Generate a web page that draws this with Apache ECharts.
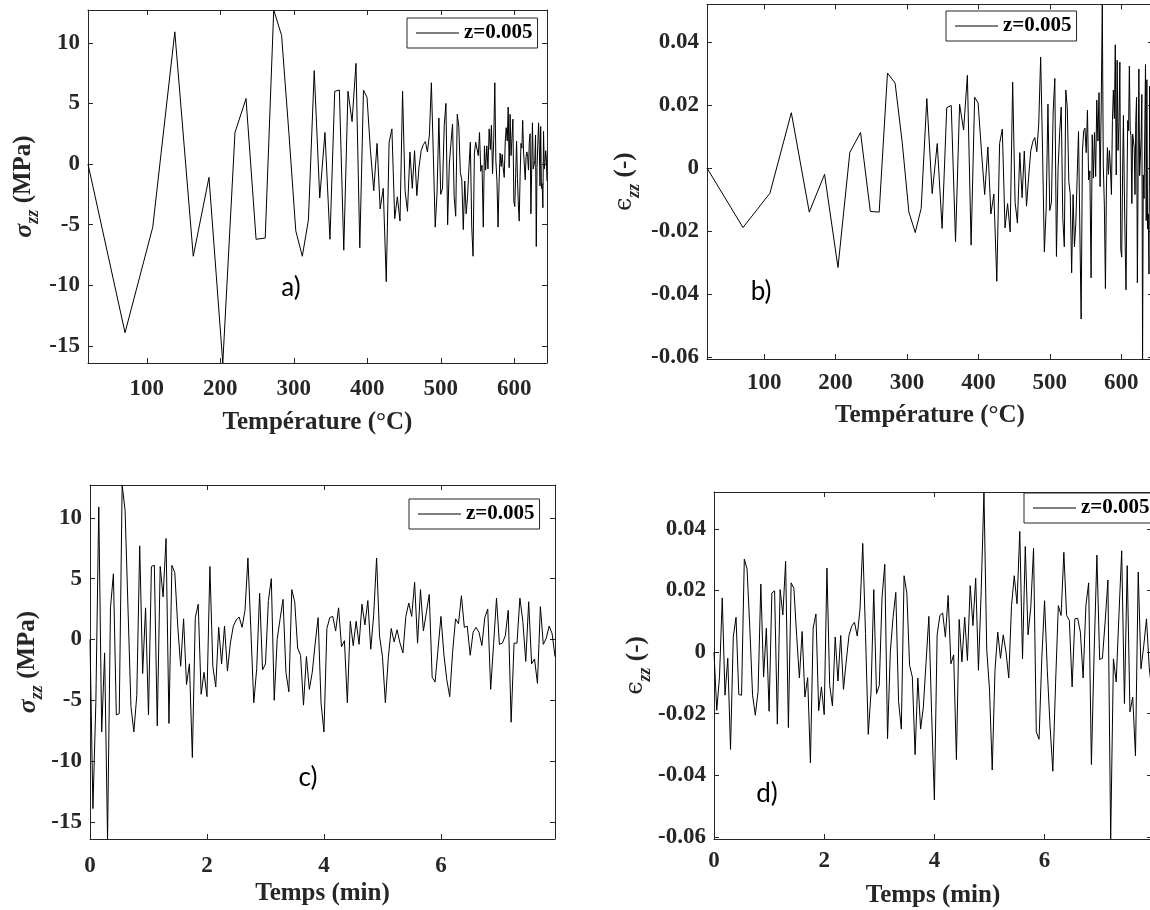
<!DOCTYPE html>
<html>
<head>
<meta charset="utf-8">
<script src="https://cdn.jsdelivr.net/npm/echarts@6/dist/echarts.min.js"></script>
<style>
  html, body { margin: 0; padding: 0; background: #fff; }
  #chart { width: 1150px; height: 910px; }
</style>
</head>
<body>
<div id="chart"></div>
<script>
// ---------------- DATA ----------------
const TIME_MIN = [
  0,0.05,0.1,0.15,0.2,0.25,0.3,0.35,0.4,0.45,
  0.5,0.55,0.6,0.65,0.7,0.75,0.8,0.85,0.9,0.95,
  1,1.05,1.1,1.15,1.2,1.25,1.3,1.35,1.4,1.45,
  1.5,1.55,1.6,1.65,1.7,1.75,1.8,1.85,1.9,1.95,
  2,2.05,2.1,2.15,2.2,2.25,2.3,2.35,2.4,2.45,
  2.5,2.55,2.6,2.65,2.7,2.75,2.8,2.85,2.9,2.95,
  3,3.05,3.1,3.15,3.2,3.25,3.3,3.35,3.4,3.45,
  3.5,3.55,3.6,3.65,3.7,3.75,3.8,3.85,3.9,3.95,
  4,4.05,4.1,4.15,4.2,4.25,4.3,4.35,4.4,4.45,
  4.5,4.55,4.6,4.65,4.7,4.75,4.8,4.85,4.9,4.95,
  5,5.05,5.1,5.15,5.2,5.25,5.3,5.35,5.4,5.45,
  5.5,5.55,5.6,5.65,5.7,5.75,5.8,5.85,5.9,5.95,
  6,6.05,6.1,6.15,6.2,6.25,6.3,6.35,6.4,6.45,
  6.5,6.55,6.6,6.65,6.7,6.75,6.8,6.85,6.9,6.95,
  7,7.05,7.1,7.15,7.2,7.25,7.3,7.35,7.4,7.45,
  7.5,7.55,7.6,7.65,7.7,7.75,7.8,7.85,7.9,7.95
];

const TEMP_C = [
  20.0,70.4,108.1,138.1,163.2,184.6,203.4,220.0,235.0,248.7,
  261.1,272.7,283.4,293.4,302.7,311.6,319.9,327.8,335.3,342.4,
  349.2,355.7,362.0,368.0,373.7,379.3,384.6,389.8,394.8,399.6,
  404.3,408.8,413.3,417.5,421.7,425.8,429.7,433.5,437.3,440.9,
  444.5,448.0,451.4,454.7,458.0,461.2,464.3,467.4,470.3,473.3,
  476.2,479.0,481.8,484.5,487.2,489.8,492.4,494.9,497.4,499.9,
  502.3,504.7,507.0,509.3,511.6,513.8,516.0,518.2,520.3,522.4,
  524.5,526.6,528.6,530.6,532.6,534.5,536.4,538.3,540.2,542.1,
  543.9,545.7,547.5,549.2,551.0,552.7,554.4,556.1,557.8,559.4,
  561.0,562.6,564.2,565.8,567.4,568.9,570.4,572.0,573.5,574.9,
  576.4,577.9,579.3,580.7,582.1,583.5,584.9,586.3,587.7,589.0,
  590.4,591.7,593.0,594.3,595.6,596.9,598.1,599.4,600.7,601.9,
  603.1,604.3,605.5,606.7,607.9,609.1,610.3,611.4,612.6,613.7,
  614.9,616.0,617.1,618.2,619.3,620.4,621.5,622.6,623.7,624.7,
  625.8,626.8,627.9,628.9,629.9,630.9,632.0,633.0,634.0,635.0,
  635.9,636.9,637.9,638.9,639.8,640.8,641.7,642.7,643.6,644.5
];

const STRESS_MPA = [
  0,-13.9,-5.2,10.9,-7.6,-1.1,-16.4,2.6,5.4,-6.2,
  -6.1,12.7,10.6,2.5,-5.5,-7.6,-4.6,7.7,-2.8,2.6,
  -6.2,6.0,6.1,-7.1,6.0,3.5,8.3,-6.9,6.1,5.5,
  1.1,-2.2,1.7,-3.7,-2.0,-9.7,1.8,2.9,-4.5,-2.7,
  -4.7,6.0,-2.2,-3.9,1.0,-2.0,1.1,-2.6,-0.3,1.1,
  1.6,1.85,1.0,2.4,6.7,0.8,-5.2,-2.4,3.8,-2.5,
  -2.0,3.2,5.0,-5.0,0.0,1.7,3.3,-2.7,-4.3,4.1,
  3.1,-0.7,-1.3,-5.4,-1.4,-4.1,-2.7,-0.3,1.8,-5.2,
  -7.6,0.9,1.8,1.9,0.7,2.6,-0.6,-0.1,-5.2,1.5,
  -0.5,1.5,-0.4,2.9,1.2,3.2,-0.8,2.0,6.7,0.3,
  -1.4,-5.2,-1.5,0.9,-0.2,0.8,-0.3,-1.1,1.9,3.0,
  1.9,4.7,-0.3,4.1,0.7,2.2,3.7,-3.1,-3.5,-0.8,
  1.9,-1.2,-3.3,-4.7,-1.0,1.7,1.3,3.6,1.0,1.1,
  -1.3,0.6,1.0,0.6,-0.5,1.8,2.5,-4.1,-0.4,3.4,
  -0.4,-0.3,0.3,2.4,-6.8,-0.3,-0.3,3.4,1.5,-1.8,
  3.1,-2.0,-1.6,-3.6,2.7,-0.4,0.1,1.1,0.5,-1.4
];

const STRAIN = [
  0,-0.0189,-0.008,0.0176,-0.014,-0.002,-0.0316,0.005,0.0113,-0.0138,
  -0.014,0.0302,0.027,0.008,-0.014,-0.0205,-0.0128,0.0221,-0.0081,0.0078,
  -0.0192,0.0192,0.0199,-0.0234,0.0203,0.0121,0.0295,-0.0245,0.0225,0.0207,
  0.0054,-0.0084,0.0067,-0.0146,-0.0083,-0.036,0.0078,0.0124,-0.019,-0.0113,
  -0.0203,0.0273,-0.0108,-0.0175,0.0049,-0.0094,0.0054,-0.0121,-0.003,0.0054,
  0.0084,0.0097,0.0052,0.014,0.0353,0.006,-0.0267,-0.013,0.0203,-0.0135,
  -0.0108,0.0178,0.0285,-0.0281,0.0,0.0113,0.0194,-0.016,-0.025,0.0248,
  0.0192,-0.0043,-0.0081,-0.0333,-0.0084,-0.025,-0.0178,-0.003,0.0116,-0.02,
  -0.048,0.0056,0.0119,0.0127,0.0049,0.0184,-0.0038,-0.0009,-0.0349,0.0106,
  -0.0032,0.0113,-0.0027,0.0216,0.0086,0.024,-0.0059,0.02,0.052,0.001,
  -0.012,-0.0383,-0.006,0.0065,-0.002,0.0056,0.0,-0.0084,0.0151,0.0248,
  0.0157,0.0392,-0.0022,0.0343,0.0056,0.0146,0.0337,-0.0259,-0.0283,-0.002,
  0.0167,-0.006,-0.024,-0.0387,-0.01,0.0151,0.0119,0.0324,0.0119,0.0103,
  -0.0113,0.0108,0.011,0.0065,-0.0084,0.0151,0.0225,-0.0365,0.0,0.0315,
  -0.0024,-0.002,0.01,0.0234,-0.0607,-0.0022,-0.0097,0.012,0.0329,-0.0167,
  0.0281,-0.0194,-0.0146,-0.0337,0.026,-0.0054,0.002,0.0108,-0.005,-0.0135
];

const X_TICKS_TEMP = [100, 200, 300, 400, 500, 600];
const X_TICKS_TIME = [0, 2, 4, 6];
const Y_TICKS_STRESS = [-15, -10, -5, 0, 5, 10];
const Y_TICKS_STRAIN = [-0.06, -0.04, -0.02, 0, 0.02, 0.04];
const TEMP_RANGE = [20, 644.5];
const TIME_RANGE = [0, 7.95];
const STRESS_RANGE = [-16.4, 12.7];
const STRAIN_RANGE = [-0.0607, 0.052];
const LEGEND_LABEL = 'z=0.005';
const X_TITLE_TEMP = 'Température (°C)';
const X_TITLE_TIME = 'Temps (min)';
const PANEL_TAGS = ['a)', 'b)', 'c)', 'd)'];

// ---------------- LAYOUT / STYLE ----------------
const SERIF = '"Liberation Serif", "Times New Roman", "DejaVu Serif", serif';
const AX = '#262626';

const panels = [
  { grid: {left: 88,  top: 10,  width: 459, height: 353},
    x: TEMP_C, y: STRESS_MPA, xr: TEMP_RANGE, yr: STRESS_RANGE,
    xt: X_TICKS_TEMP, yt: Y_TICKS_STRESS, xTitle: X_TITLE_TEMP, kind: 'stress',
    xMargin: 15, xGap: 47, yGap: 46, legend: {left: 407, top: 18}, tag: [291, 288] },
  { grid: {left: 707, top: 4.5, width: 446, height: 354.5},
    x: TEMP_C, y: STRAIN, xr: TEMP_RANGE, yr: STRAIN_RANGE,
    xt: X_TICKS_TEMP, yt: Y_TICKS_STRAIN, xTitle: X_TITLE_TEMP, kind: 'strain',
    xMargin: 13, xGap: 44, yGap: 64, legend: {left: 946, top: 11}, tag: [761, 292] },
  { grid: {left: 90,  top: 485, width: 465, height: 354},
    x: TIME_MIN, y: STRESS_MPA, xr: TIME_RANGE, yr: STRESS_RANGE,
    xt: X_TICKS_TIME, yt: Y_TICKS_STRESS, xTitle: X_TITLE_TIME, kind: 'stress',
    xMargin: 16, xGap: 42, yGap: 44, legend: {left: 409, top: 499}, tag: [308, 778] },
  { grid: {left: 714, top: 492, width: 438, height: 347},
    x: TIME_MIN, y: STRAIN, xr: TIME_RANGE, yr: STRAIN_RANGE,
    xt: X_TICKS_TIME, yt: Y_TICKS_STRAIN, xTitle: X_TITLE_TIME, kind: 'strain',
    xMargin: 11, xGap: 44, yGap: 59, legend: {left: 1024, top: 493}, tag: [767, 794] }
];

const yNameRich = {
  g: {fontFamily: SERIF, fontStyle: 'italic', fontWeight: 'bold', fontSize: 26, lineHeight: 36, color: AX},
  e: {fontFamily: '"DejaVu Serif", serif', fontWeight: 'normal', fontSize: 24, lineHeight: 36, color: AX},
  s: {fontFamily: SERIF, fontStyle: 'italic', fontWeight: 'bold', fontSize: 18, verticalAlign: 'bottom', color: AX},
  t: {fontFamily: SERIF, fontWeight: 'bold', fontSize: 25, lineHeight: 36, color: AX}
};

const grids = [], xAxes = [], yAxes = [], series = [], legends = [], graphics = [];

panels.forEach((p, k) => {
  grids.push(Object.assign({containLabel: false, outerBoundsMode: 'none'}, p.grid));
  const tickStyle = {show: true, inside: true, length: 5, lineStyle: {color: AX, width: 1}};
  const lineStyle = {show: true, onZero: false, lineStyle: {color: AX, width: 1}};
  const labelStyle = {color: AX, fontFamily: SERIF, fontWeight: 'bold', fontSize: 23};
  // bottom x
  xAxes.push({
    type: 'value', gridIndex: k, position: 'bottom', min: p.xr[0], max: p.xr[1],
    axisLine: lineStyle,
    axisTick: Object.assign({customValues: p.xt}, tickStyle),
    axisLabel: Object.assign({show: true, customValues: p.xt, margin: p.xMargin}, labelStyle),
    splitLine: {show: false},
    name: p.xTitle, nameLocation: 'middle', nameGap: p.xGap,
    nameTextStyle: {color: AX, fontFamily: SERIF, fontWeight: 'bold', fontSize: 25}
  });
  // top x (mirror ticks)
  xAxes.push({
    type: 'value', gridIndex: k, position: 'top', min: p.xr[0], max: p.xr[1],
    axisLine: lineStyle,
    axisTick: Object.assign({customValues: p.xt}, tickStyle),
    axisLabel: {show: false}, splitLine: {show: false}
  });
  // left y
  yAxes.push({
    type: 'value', gridIndex: k, position: 'left', min: p.yr[0], max: p.yr[1],
    axisLine: lineStyle,
    axisTick: Object.assign({customValues: p.yt}, tickStyle),
    axisLabel: Object.assign({show: true, customValues: p.yt, margin: 8}, labelStyle),
    splitLine: {show: false},
    name: p.kind === 'stress' ? '{g|σ}{s|zz}{t| (MPa)}' : '{e|ϵ}{s|zz}{t| (-)}',
    nameLocation: 'middle', nameGap: p.yGap,
    nameTextStyle: {rich: yNameRich}
  });
  // right y (mirror ticks)
  yAxes.push({
    type: 'value', gridIndex: k, position: 'right', min: p.yr[0], max: p.yr[1],
    axisLine: lineStyle,
    axisTick: Object.assign({customValues: p.yt}, tickStyle),
    axisLabel: {show: false}, splitLine: {show: false}
  });
  series.push({
    type: 'line', name: LEGEND_LABEL,
    xAxisIndex: 2 * k, yAxisIndex: 2 * k,
    data: p.x.map((v, i) => [v, p.y[i]]),
    symbol: 'none', showSymbol: false, smooth: false, clip: true,
    lineStyle: {color: '#000', width: 1}, itemStyle: {color: '#000'},
    emphasis: {disabled: true}
  });
  legends.push({
    left: p.legend.left, top: p.legend.top, orient: 'horizontal',
    data: [LEGEND_LABEL], selectedMode: false,
    icon: 'rect', itemWidth: 43, itemHeight: 1, itemGap: 0,
    itemStyle: {color: '#000'},
    backgroundColor: '#fff', borderColor: AX, borderWidth: 1, borderRadius: 0,
    padding: [4, 5, 4, 9],
    textStyle: {fontFamily: SERIF, fontWeight: 'bold', fontSize: 21, color: '#000', lineHeight: 22}
  });
  graphics.push({
    type: 'text', x: p.tag[0], y: p.tag[1], z: 100,
    style: {text: PANEL_TAGS[k], font: '26px Lato, "Open Sans", sans-serif', fill: '#000',
            textAlign: 'center', textVerticalAlign: 'middle', align: 'center', verticalAlign: 'middle'}
  });
});

const chart = echarts.init(document.getElementById('chart'), null, {renderer: 'canvas'});
chart.setOption({
  backgroundColor: '#fff',
  animation: false,
  grid: grids, xAxis: xAxes, yAxis: yAxes, series: series,
  legend: legends, graphic: graphics,
  tooltip: {show: false}
});
</script>
</body>
</html>
